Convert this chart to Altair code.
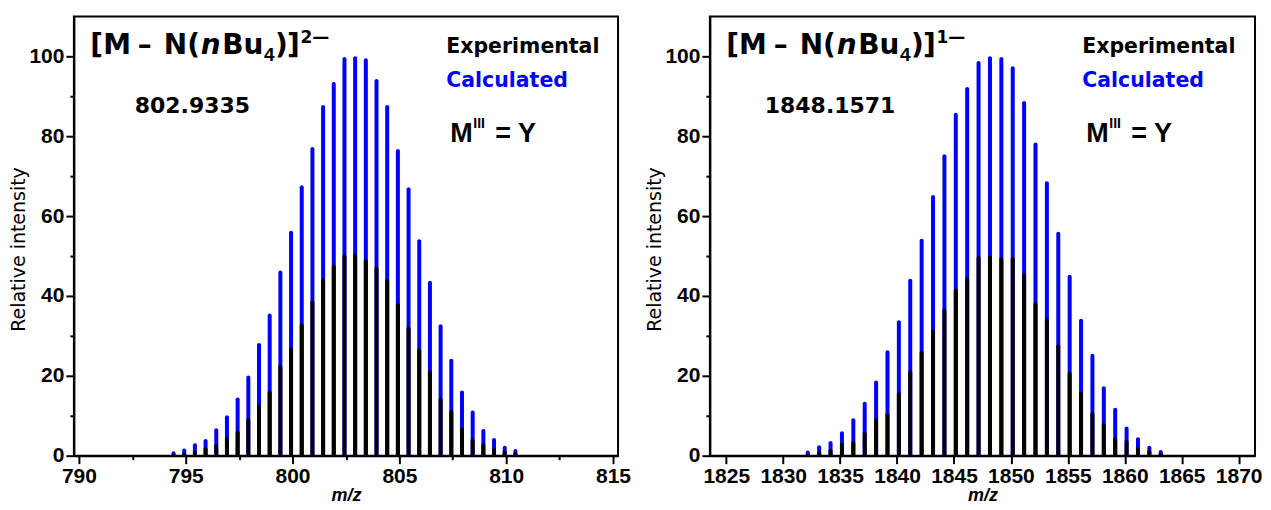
import altair as alt
import pandas as pd

# ---------------- data ----------------
left_mz = [794.43, 794.93, 795.43, 795.93, 796.43, 796.93, 797.43, 797.93, 798.43, 798.93,
           799.43, 799.93, 800.43, 800.93, 801.43, 801.93, 802.43, 802.93, 803.43, 803.93,
           804.43, 804.93, 805.43, 805.93, 806.43, 806.93, 807.43, 807.93, 808.43, 808.93,
           809.43, 809.93, 810.43]
left_calc = [1.1, 1.8, 3.1, 4.2, 6.9, 10.1, 14.6, 20.1, 28.2, 35.6, 46.4, 56.3, 67.7, 77.3,
             87.8, 93.6, 99.8, 100, 99.5, 94.3, 87.8, 76.8, 67.2, 54.2, 43.8, 32.9, 24.3,
             16.3, 11.3, 6.7, 4.4, 2.5, 1.7]
left_exp = [0.4, 0.7, 1.3, 2.1, 2.9, 4.6, 6.3, 9.4, 12.9, 16.3, 22.8, 27.1, 33.1, 38.9,
            44.4, 47.8, 50.4, 50.6, 49.2, 47.3, 44.3, 38.2, 32.3, 26.9, 21.3, 14.6, 11.4,
            7.1, 4.3, 3.1, 1.9, 1.3, 0.9]

right_mz = [1832.16, 1833.16, 1834.16, 1835.16, 1836.16, 1837.16, 1838.16, 1839.16,
            1840.16, 1841.16, 1842.16, 1843.16, 1844.16, 1845.16, 1846.16, 1847.16,
            1848.16, 1849.16, 1850.16, 1851.16, 1852.16, 1853.16, 1854.16, 1855.16,
            1856.16, 1857.16, 1858.16, 1859.16, 1860.16, 1861.16, 1862.16, 1863.16]
right_calc = [1.3, 2.6, 3.7, 6.1, 9.4, 13.5, 18.8, 26.4, 33.9, 44.3, 54.3, 65.3, 75.5, 85.9,
              92.3, 98.8, 100, 99.8, 97.5, 88.8, 78.4, 68.7, 56.1, 45.3, 34.3, 25.5, 17.4,
              12.0, 7.3, 4.6, 2.5, 1.4]
right_exp = [0.4, 1.1, 1.7, 3.2, 3.7, 5.9, 9.4, 10.6, 15.9, 21.4, 26.2, 31.6, 36.8, 41.8,
             44.6, 50.0, 50.1, 49.7, 49.7, 45.6, 38.5, 34.5, 27.9, 21.0, 16.0, 10.9, 8.1,
             4.6, 3.9, 2.1, 1.5, 0.7]

left_major = [790, 795, 800, 805, 810, 815]
left_minor = [792.5, 797.5, 802.5, 807.5, 812.5]
right_major = [1825, 1830, 1835, 1840, 1845, 1850, 1855, 1860, 1865, 1870]
right_minor = []
y_major = [0, 20, 40, 60, 80, 100]
y_minor = [10, 30, 50, 70, 90]

left_charge = "2—"
right_charge = "1—"
left_mass = "802.9335"
right_mass = "1848.1571"
legend_exp = "Experimental"
legend_calc = "Calculated"

BLUE = "#0000ff"
BOLD_FONT = "DejaVu Sans"
ARIAL = "Liberation Sans"


def txt(label, x, y, size, font=BOLD_FONT, style="normal", color="black"):
    return alt.Chart(pd.DataFrame({"label": [label]})).mark_text(
        align="left", baseline="alphabetic", font=font, fontSize=size,
        fontWeight="bold", fontStyle=style, color=color
    ).encode(x=alt.value(x), y=alt.value(y), text="label:N")


def panel(mz, calc, exp, domain, major, minor, charge, mass, mass_x, width):
    df = pd.DataFrame({"mz": mz, "calc": calc, "exp": exp})
    xscale = alt.Scale(domain=domain, nice=False, zero=False)
    yscale = alt.Scale(domain=[0, 110], nice=False)
    xaxis = alt.Axis(
        values=major, title="m/z", orient="bottom", tickSize=8, format="d",
        labelOverlap=False,
        labelFont=ARIAL, labelFontSize=21,
        labelFontWeight="bold", labelPadding=2, labelFlush=False,
        titleFont=ARIAL, titleFontSize=18, titleFontWeight="bold",
        titleFontStyle="italic", titlePadding=0,
    )
    yaxis = alt.Axis(
        values=y_major, title="Relative intensity", orient="left", tickSize=8,
        labelOverlap=False,
        labelFont=ARIAL, labelFontSize=21, labelFontWeight="bold", labelPadding=2,
        labelFlush=False,
        titleFont="DejaVu Sans", titleFontSize=19, titleFontWeight="normal",
        titlePadding=0, titleY=233,
    )
    base = alt.Chart(df)
    blue = base.mark_bar(size=4, color=BLUE, orient="vertical",
                         cornerRadiusTopLeft=2, cornerRadiusTopRight=2).encode(
        x=alt.X("mz:Q", scale=xscale, axis=xaxis),
        y=alt.Y("calc:Q", scale=yscale, axis=yaxis),
        y2=alt.datum(0),
    )
    black = base.mark_bar(size=4, color="black", orient="vertical",
                          cornerRadiusTopLeft=2, cornerRadiusTopRight=2).encode(
        x=alt.X("mz:Q", scale=xscale,
                axis=alt.Axis(values=minor, orient="bottom", tickSize=4, labels=False,
                              domain=False, title=None) if minor else None),
        y=alt.Y("exp:Q", scale=yscale,
                axis=alt.Axis(values=y_minor, orient="left", tickSize=4, labels=False,
                              domain=False, title=None)),
        y2=alt.datum(0),
    )
    texts = [
        txt("[M", 16.5, 37.5, 28),
        txt("–", 64, 37.5, 28),
        txt("N(", 90, 37.5, 28),
        txt("n", 127, 37.5, 28, style="italic"),
        txt("Bu", 148.5, 37.5, 28),
        txt("4", 190.5, 45, 19, font=ARIAL),
        txt(")", 201.5, 37.5, 28),
        txt("]", 213.5, 37.5, 28),
        txt(charge, 227, 27, 17),
        txt(mass, mass_x, 97, 22),
        txt(legend_exp, 373, 37, 20.5),
        txt(legend_calc, 373, 71, 20.5, color=BLUE),
        txt("M", 377, 126, 27, font=ARIAL),
        txt("III", 400, 112, 14, font=ARIAL),
        txt("= Y", 422, 126, 27, font=ARIAL),
    ]
    return alt.layer(blue, black, *texts).resolve_axis(x="independent", y="independent").properties(
        width=width, height=440)


left = panel(left_mz, left_calc, left_exp, [790, 815], left_major, left_minor,
             left_charge, left_mass, 61, 545)
right = panel(right_mz, right_calc, right_exp, [1824, 1871], right_major, right_minor,
              right_charge, right_mass, 55, 546)

chart = alt.hconcat(left, right, spacing=92, bounds="flush").properties(
    padding={"left": 0, "top": 7, "right": 0, "bottom": 0}
).configure_view(stroke="black", strokeWidth=2).configure_axis(
    domainColor="black", domainWidth=2, tickColor="black", tickWidth=2,
    grid=False, labelColor="black", titleColor="black"
)

chart.save("out.html", embed_options={"renderer": "svg", "actions": False})
